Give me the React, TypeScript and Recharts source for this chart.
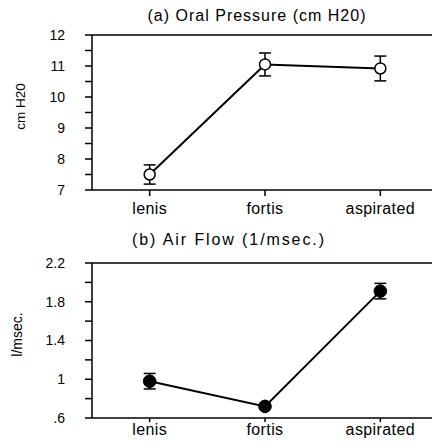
import React from "react";
import {
  LineChart,
  Line,
  XAxis,
  YAxis,
  ErrorBar,
  ReferenceLine,
} from "recharts";

const categories = ["lenis", "fortis", "aspirated"];

const pressureMeans = [7.5, 11.05, 10.92];
const pressureErrors = [0.31, 0.37, 0.4];
const pressureTicks = [7, 7.5, 8, 8.5, 9, 9.5, 10, 10.5, 11, 11.5, 12];
const pressureTickLabels = ["7", "", "8", "", "9", "", "10", "", "11", "", "12"];

const flowMeans = [0.98, 0.72, 1.91];
const flowErrors = [0.08, 0.03, 0.08];
const flowTicks = [0.6, 0.8, 1.0, 1.2, 1.4, 1.6, 1.8, 2.0, 2.2];
const flowTickLabels = [".6", "", "1", "", "1.4", "", "1.8", "", "2.2"];

const pressureData = categories.map((name, i) => ({
  name,
  value: pressureMeans[i],
  err: pressureErrors[i],
}));

const flowData = categories.map((name, i) => ({
  name,
  value: flowMeans[i],
  err: flowErrors[i],
}));

const FONT = "'Liberation Sans', Arial, Helvetica, sans-serif";

const yLabel = (text: string, x: number, shift: number, size: number) => (props: any) => {
  const vb = props.viewBox || {};
  const y = (vb.y || 0) + (vb.height || 0) / 2 + shift;
  return (
    <text
      x={x}
      y={y}
      transform={`rotate(-90 ${x} ${y})`}
      textAnchor="middle"
      dominantBaseline="central"
      fontSize={size}
      fill="#000"
    >
      {text}
    </text>
  );
};

export default function App() {
  const axisLine = { stroke: "#000", strokeWidth: 1.5 };
  const tickLine = { stroke: "#000", strokeWidth: 1.5 };
  const xTick = { fill: "#000", fontSize: 16, letterSpacing: 0.4 };
  const yTick = { fill: "#000", fontSize: 14 };

  return (
    <div
      style={{
        position: "absolute",
        left: 0,
        top: 0,
        width: 432,
        height: 448,
        overflow: "hidden",
        background: "#fff",
        fontFamily: FONT,
      }}
    >
      <div
        style={{
          position: "absolute",
          left: 0,
          top: 7.5,
          width: 514,
          textAlign: "center",
          fontSize: 16,
          lineHeight: "16px",
          letterSpacing: 1.0,
          color: "#000",
        }}
      >
        (a) Oral Pressure (cm H20)
      </div>
      <div
        style={{
          position: "absolute",
          left: 0,
          top: 231.5,
          width: 458,
          textAlign: "center",
          fontSize: 16,
          lineHeight: "16px",
          letterSpacing: 1.9,
          color: "#000",
        }}
      >
        (b) Air Flow (1/msec.)
      </div>

      <div style={{ position: "absolute", left: 0, top: 0 }}>
        <LineChart
          width={438}
          height={224}
          data={pressureData}
          margin={{ top: 35, right: 0, bottom: 4, left: 0 }}
        >
          <XAxis
            dataKey="name"
            type="category"
            scale="band"
            interval={0}
            height={30}
            axisLine={axisLine}
            tickLine={tickLine}
            tickSize={6}
            tickMargin={7}
            tick={xTick}
          />
          <YAxis
            type="number"
            domain={[7, 12]}
            ticks={pressureTicks}
            interval={0}
            width={92}
            axisLine={axisLine}
            tickLine={tickLine}
            tickSize={7}
            tickMargin={20}
            tick={yTick}
            tickFormatter={(_v: number, i: number) => pressureTickLabels[i]}
            label={{ content: yLabel("cm H20", 20, -6, 13.5) }}
          />
          <ReferenceLine y={12} stroke="#000" strokeWidth={1.5} />
          <Line
            type="linear"
            dataKey="value"
            stroke="#000"
            strokeWidth={2}
            dot={{ r: 5.5, fill: "#fff", stroke: "#000", strokeWidth: 1.5 }}
            isAnimationActive={false}
          >
            <ErrorBar dataKey="err" width={6} stroke="#000" strokeWidth={1.5} direction="y" />
          </Line>
        </LineChart>
      </div>

      <div style={{ position: "absolute", left: 0, top: 224 }}>
        <LineChart
          width={438}
          height={224}
          data={flowData}
          margin={{ top: 39, right: 0, bottom: 0, left: 0 }}
        >
          <XAxis
            dataKey="name"
            type="category"
            scale="band"
            interval={0}
            height={30}
            axisLine={axisLine}
            tickLine={tickLine}
            tickSize={4}
            tickMargin={2}
            tick={xTick}
          />
          <YAxis
            type="number"
            domain={[0.6, 2.2]}
            ticks={flowTicks}
            interval={0}
            width={92}
            axisLine={axisLine}
            tickLine={tickLine}
            tickSize={7}
            tickMargin={20}
            tick={yTick}
            tickFormatter={(_v: number, i: number) => flowTickLabels[i]}
            label={{ content: yLabel("l/msec.", 17, -6, 14) }}
          />
          <ReferenceLine y={2.2} stroke="#000" strokeWidth={1.5} />
          <Line
            type="linear"
            dataKey="value"
            stroke="#000"
            strokeWidth={2}
            dot={{ r: 6.3, fill: "#000", stroke: "#000", strokeWidth: 1 }}
            isAnimationActive={false}
          >
            <ErrorBar dataKey="err" width={6} stroke="#000" strokeWidth={1.5} direction="y" />
          </Line>
        </LineChart>
      </div>
    </div>
  );
}
